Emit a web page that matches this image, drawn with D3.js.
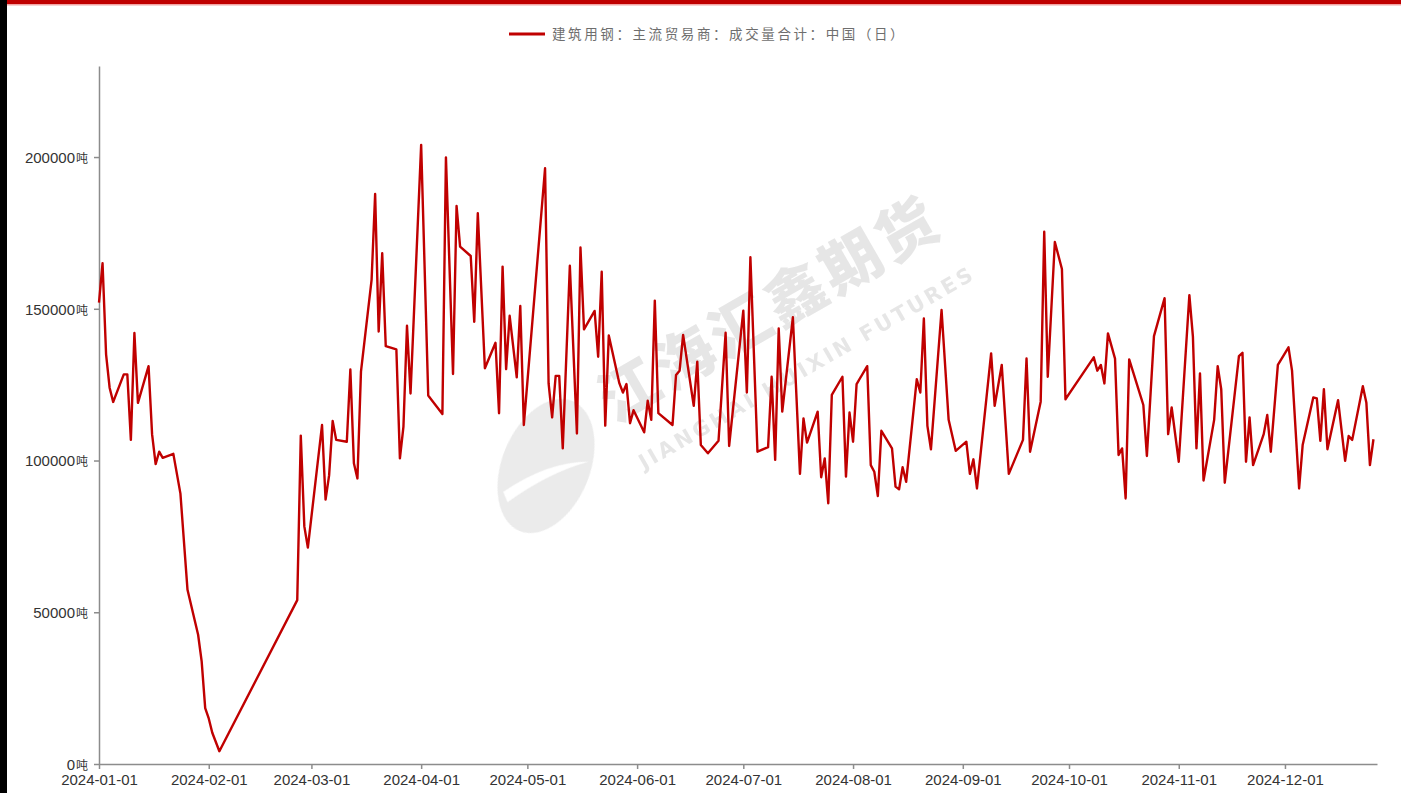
<!DOCTYPE html>
<html>
<head>
<meta charset="utf-8">
<script src="https://cdn.jsdelivr.net/npm/d3@7"></script>
<style>
  html, body { margin: 0; padding: 0; background: #fff; }
  svg { display: block; font-family: "Liberation Sans", Arial, sans-serif; }
</style>
</head>
<body>
<div id="chart"></div>
<script>
/* -------------------------------------------------------------------------- */
// data (trading days, 2024)
const dates = [
  '01-01','01-02','01-03','01-04','01-05','01-08','01-09','01-10','01-11','01-12',
  '01-15','01-16','01-17','01-18','01-19','01-22','01-24','01-26','01-29','01-30',
  '01-31','02-01','02-02','02-04','02-26','02-27','02-28','02-29','03-04','03-05',
  '03-06','03-07','03-08','03-11','03-12','03-13','03-14','03-15','03-18','03-19',
  '03-20','03-21','03-22','03-25','03-26','03-27','03-28','03-29','04-01','04-03',
  '04-07','04-08','04-10','04-11','04-12','04-15','04-16','04-17','04-19','04-22',
  '04-23','04-24','04-25','04-26','04-28','04-29','04-30','05-06','05-07','05-08',
  '05-09','05-10','05-11','05-13','05-15','05-16','05-17','05-20','05-21','05-22',
  '05-23','05-24','05-27','05-28','05-29','05-30','05-31','06-03','06-04','06-05',
  '06-06','06-07','06-11','06-12','06-13','06-14','06-17','06-18','06-19','06-21',
  '06-24','06-26','06-27','07-01','07-02','07-03','07-05','07-08','07-09','07-10',
  '07-11','07-12','07-15','07-17','07-18','07-19','07-22','07-23','07-24','07-25',
  '07-26','07-29','07-30','07-31','08-01','08-02','08-05','08-06','08-07','08-08',
  '08-09','08-12','08-13','08-14','08-15','08-16','08-19','08-20','08-21','08-22',
  '08-23','08-26','08-28','08-30','09-02','09-03','09-04','09-05','09-09','09-10',
  '09-12','09-14','09-18','09-19','09-20','09-23','09-24','09-25','09-27','09-29',
  '09-30','10-08','10-09','10-10','10-11','10-12','10-14','10-15','10-16','10-17',
  '10-18','10-22','10-23','10-25','10-28','10-29','10-30','11-01','11-04','11-05',
  '11-06','11-07','11-08','11-11','11-12','11-13','11-14','11-18','11-19','11-20',
  '11-21','11-22','11-25','11-26','11-27','11-29','12-02','12-03','12-05','12-06',
  '12-09','12-10','12-11','12-12','12-13','12-16','12-18','12-19','12-20','12-23',
  '12-24','12-25','12-26'
];

const volumes = [
  152000,165000,135000,124000,119300,128400,128400,106800,142000,119000,
  131100,108600, 98800,102900,100900,102200, 89100, 57400, 42600, 33800,
   18400, 15000, 10300,  4200, 54000,108200, 78300, 71300,111700, 87100,
   95100,113000,106800,106200,130000, 99100, 94100,129300,159500,187800,
  142500,168300,137700,136600,100700,111200,144400,122100,204000,121400,
  115300,199900,128500,183900,170500,167400,145700,181500,130400,138800,
  115600,163900,130100,147700,127400,150900,111700,196300,125400,114200,
  127900,127900,104000,164200,108900,170200,143200,149300,134200,162200,
  111500,141200,125400,122400,125200,112300,116600,109300,119700,113400,
  152700,115600,111700,128200,129600,141400,118000,132600,105100,102400,
  106500,142100,104800,149400,122400,167000,102900,104400,127600,100200,
  143500,116100,147200, 95600,113900,105900,116100, 94500,100700, 85900,
  121600,127600, 94700,115800,106200,125200,131100, 98500, 96300, 88300,
  109800,104000, 91400, 90500, 97800, 93000,126800,122400,146800,111400,
  103700,149600,113400,103200,106200, 95600,100400, 90800,135300,118000,
  131500, 95600,106800,133600,102900,119400,175400,127600,172000,163100,
  120200,134000,129600,131500,125400,141900,133600,101800,104000, 87500,
  133300,118300,101500,141000,153500,108700,117500, 99600,154500,140800,
  104000,128700, 93400,113400,131100,123500, 92700,134400,135500, 99600,
  114200, 98500,108700,115000,102900,131500,137300,129600, 90800,105100,
  120800,120500,106500,123500,103700,119900, 99900,108100,106800,124500,
  119000, 98500,107000
];

const yTicks = [0, 50000, 100000, 150000, 200000];
const xTicks = ['01-01','02-01','03-01','04-01','05-01','06-01','07-01',
                '08-01','09-01','10-01','11-01','12-01'];
const seriesName = '建筑用钢：主流贸易商：成交量合计：中国（日）';
const unit = '吨';

/* -------------------------------------------------------------------------- */
const W = 1402, H = 793;
const red = '#c00000';
const parseDay = d3.timeParse('%Y-%m-%d');
const fmtDay = d3.timeFormat('%Y-%m-%d');

let series = dates.map((d, i) => ({ date: parseDay('2024-' + d), value: volumes[i] }));

let svg = d3.select('#chart').append('svg')
  .attr('width', W).attr('height', H);

// frame: black bar on the left, red band on top
svg.append('rect').attr('x', 0).attr('y', 0).attr('width', 7).attr('height', H).attr('fill', '#000');
svg.append('rect').attr('x', 7).attr('y', 0).attr('width', 1394).attr('height', 4).attr('fill', red);
svg.append('rect').attr('x', 7).attr('y', 4).attr('width', 1394).attr('height', 1.5).attr('fill', '#f2a5a5');

let x = d3.scaleTime()
  .domain([parseDay('2024-01-01'), parseDay('2024-12-27')])
  .range([99, 1377]);

let y = d3.scaleLinear()
  .domain([0, 230000])
  .range([764, 66]);

/* -------------------------------------------------------------------------- */
// watermark (light grey, behind the line)
let wm = svg.append('g').attr('opacity', 0.7);

let logo = wm.append('g').attr('transform', 'translate(546,466) rotate(22)');
logo.append('ellipse').attr('rx', 44).attr('ry', 70).attr('fill', '#e2e2e2');
logo.append('path')
  .attr('d', 'M -30 40 Q 0 -5 38 -20 Q 5 5 -22 48 Z')
  .attr('fill', '#fff');

wm.append('text')
  .attr('transform', 'translate(614,424) rotate(-30)')
  .attr('font-family', '"Noto Sans CJK SC", sans-serif')
  .attr('font-weight', 900)
  .attr('font-size', 60)
  .attr('letter-spacing', 4)
  .attr('fill', '#dcdcdc')
  .text('江海汇鑫期货');

wm.append('text')
  .attr('transform', 'translate(644,470) rotate(-30)')
  .attr('font-family', '"DejaVu Sans", sans-serif')
  .attr('font-weight', 'bold')
  .attr('font-size', 21)
  .attr('letter-spacing', 3)
  .attr('fill', '#dcdcdc')
  .text('JIANGHAI HUIXIN FUTURES');

/* -------------------------------------------------------------------------- */
// axes
let xAxis = d3.axisBottom(x)
  .tickValues(xTicks.map(d => parseDay('2024-' + d)))
  .tickFormat(fmtDay)
  .tickSize(5)
  .tickSizeOuter(0);

let gx = svg.append('g')
  .attr('transform', `translate(0,${y(0)})`)
  .call(xAxis);

gx.select('.domain').attr('stroke', '#8c8c8c').attr('stroke-width', 1.5);
gx.selectAll('.tick line').attr('stroke', '#8c8c8c').attr('stroke-width', 1.5);
gx.selectAll('.tick text')
  .attr('y', 10)
  .attr('font-size', 15)
  .attr('font-family', '"Liberation Sans", Arial, sans-serif')
  .attr('fill', '#333');

let yAxis = d3.axisLeft(y)
  .tickValues(yTicks)
  .tickFormat('')
  .tickSize(5)
  .tickSizeOuter(0);

let gy = svg.append('g')
  .attr('transform', `translate(${x.range()[0]},0)`)
  .call(yAxis);

gy.select('.domain').attr('stroke', '#8c8c8c').attr('stroke-width', 1.5);
gy.selectAll('.tick line').attr('stroke', '#8c8c8c').attr('stroke-width', 1.5);

let ylab = gy.selectAll('.tick').append('text')
  .attr('x', -11)
  .attr('dy', '0.35em')
  .attr('text-anchor', 'end')
  .attr('fill', '#333')
  .attr('font-size', 15);
ylab.append('tspan').text(d => d);
ylab.append('tspan')
  .attr('dx', 1)
  .attr('font-size', 12)
  .attr('font-family', '"Noto Sans CJK SC", sans-serif')
  .text(unit);

/* -------------------------------------------------------------------------- */
// series line
let line = d3.line()
  .x(d => x(d.date))
  .y(d => y(d.value));

svg.append('path')
  .datum(series)
  .attr('fill', 'none')
  .attr('stroke', red)
  .attr('stroke-width', 2.4)
  .attr('stroke-linejoin', 'round')
  .attr('d', line);

/* -------------------------------------------------------------------------- */
// legend
let lg = svg.append('g').attr('transform', 'translate(509,34)');
lg.append('line')
  .attr('x1', 0).attr('x2', 36)
  .attr('stroke', red).attr('stroke-width', 3);
lg.append('text')
  .attr('x', 43)
  .attr('dy', '0.35em')
  .attr('font-family', '"Noto Sans CJK SC", sans-serif')
  .attr('font-size', 13.5)
  .attr('letter-spacing', 2.6)
  .attr('fill', '#6e6e6e')
  .text(seriesName);
</script>
</body>
</html>
